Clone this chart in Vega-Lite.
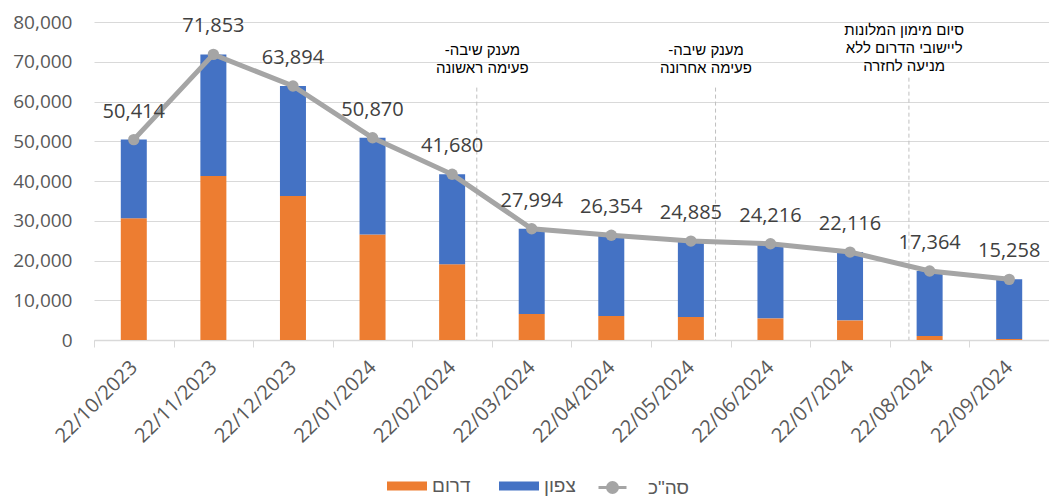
{
  "$schema": "https://vega.github.io/schema/vega-lite/v6.json",
  "autosize": {"type": "none"},
  "padding": {"left": 94, "top": 22, "right": 0, "bottom": 157},
  "width": 955,
  "height": 318,
  "background": "white",
  "config": {
    "view": {"stroke": null},
    "font": "Open Sans",
    "axisY": {"title": null, "labelExpr": "format(datum.value, ',')", "labelFontSize": 19, "labelColor": "#595959", "labelPadding": 22, "domain": false, "ticks": false, "gridColor": "#d9d9d9", "gridWidth": 1.2, "labelFont": "Open Sans"}
  },
  "datasets": {
    "bars": [
      {"date": "22/10/2023", "series": "דרום", "value": 30660},
      {"date": "22/10/2023", "series": "צפון", "value": 19754},
      {"date": "22/11/2023", "series": "דרום", "value": 41250},
      {"date": "22/11/2023", "series": "צפון", "value": 30603},
      {"date": "22/12/2023", "series": "דרום", "value": 36210},
      {"date": "22/12/2023", "series": "צפון", "value": 27684},
      {"date": "22/01/2024", "series": "דרום", "value": 26550},
      {"date": "22/01/2024", "series": "צפון", "value": 24320},
      {"date": "22/02/2024", "series": "דרום", "value": 19060},
      {"date": "22/02/2024", "series": "צפון", "value": 22620},
      {"date": "22/03/2024", "series": "דרום", "value": 6560},
      {"date": "22/03/2024", "series": "צפון", "value": 21434},
      {"date": "22/04/2024", "series": "דרום", "value": 6050},
      {"date": "22/04/2024", "series": "צפון", "value": 20304},
      {"date": "22/05/2024", "series": "דרום", "value": 5800},
      {"date": "22/05/2024", "series": "צפון", "value": 19085},
      {"date": "22/06/2024", "series": "דרום", "value": 5450},
      {"date": "22/06/2024", "series": "צפון", "value": 18766},
      {"date": "22/07/2024", "series": "דרום", "value": 4940},
      {"date": "22/07/2024", "series": "צפון", "value": 17176},
      {"date": "22/08/2024", "series": "דרום", "value": 1000},
      {"date": "22/08/2024", "series": "צפון", "value": 16364},
      {"date": "22/09/2024", "series": "דרום", "value": 250},
      {"date": "22/09/2024", "series": "צפון", "value": 15008}
    ],
    "totals": [
      {"date": "22/10/2023", "total": 50414},
      {"date": "22/11/2023", "total": 71853},
      {"date": "22/12/2023", "total": 63894},
      {"date": "22/01/2024", "total": 50870},
      {"date": "22/02/2024", "total": 41680},
      {"date": "22/03/2024", "total": 27994},
      {"date": "22/04/2024", "total": 26354},
      {"date": "22/05/2024", "total": 24885},
      {"date": "22/06/2024", "total": 24216},
      {"date": "22/07/2024", "total": 22116},
      {"date": "22/08/2024", "total": 17364},
      {"date": "22/09/2024", "total": 15258}
    ],
    "notes": [
      {"date": "22/02/2024", "top": 63500, "note": ["-מענק שיבה", "פעימה ראשונה"]},
      {"date": "22/05/2024", "top": 63500, "note": ["-מענק שיבה", "פעימה אחרונה"]},
      {"date": "22/08/2024", "top": 66000, "note": ["סיום מימון המלונות", "ליישובי הדרום ללא", "מניעה לחזרה"]}
    ]
  },
  "layer": [
    {
      "data": {"name": "bars"},
      "mark": {"type": "bar", "width": 26},
      "encoding": {
        "x": {
          "field": "date", "type": "nominal",
          "scale": {"domain": ["22/10/2023","22/11/2023","22/12/2023","22/01/2024","22/02/2024","22/03/2024","22/04/2024","22/05/2024","22/06/2024","22/07/2024","22/08/2024","22/09/2024"], "paddingInner": 0, "paddingOuter": 0},
          "axis": {"title": null, "labelAngle": -45, "labelAlign": "right", "labelBaseline": "middle", "labelFontSize": 20, "labelColor": "#595959", "labelPadding": 17, "tickBand": "extent", "tickSize": 7, "tickColor": "#d9d9d9", "domainColor": "#d9d9d9", "domainWidth": 1.5, "labelFont": "Open Sans"}
        },
        "y": {
          "field": "value", "type": "quantitative", "stack": "zero",
          "scale": {"domain": [0, 80000], "nice": false},
          "axis": {"values": [0,10000,20000,30000,40000,50000,60000,70000,80000]}
        },
        "order": {"field": "series", "sort": "ascending"},
        "color": {
          "field": "series", "type": "nominal",
          "scale": {"domain": ["דרום", "צפון"], "range": ["#ED7D31", "#4472C4"]},
          "legend": {
            "orient": "none", "legendX": 293, "legendY": 444, "direction": "horizontal", "title": null,
            "symbolType": "M-1,-0.23H1V0.23H-1Z", "symbolSize": 1600, "symbolStrokeWidth": 0, "symbolOpacity": 1,
            "labelFontSize": 19, "labelFont": "Liberation Sans", "labelColor": "#595959",
            "columnPadding": 28, "labelOffset": 5
          }
        }
      }
    },
    {
      "data": {"name": "notes"},
      "transform": [{"filter": {"field": "date", "oneOf": ["22/02/2024", "22/05/2024"]}}],
      "mark": {"type": "rule", "color": "#bfbfbf", "strokeDash": [4, 3], "strokeWidth": 1},
      "encoding": {
        "x": {"field": "date", "type": "nominal", "bandPosition": 0.81},
        "y": {"field": "top", "type": "quantitative", "axis": {"values": [0,10000,20000,30000,40000,50000,60000,70000,80000]}},
        "y2": {"datum": 0}
      }
    },
    {
      "data": {"name": "notes"},
      "transform": [{"filter": {"field": "date", "equal": "22/08/2024"}}],
      "mark": {"type": "rule", "color": "#bfbfbf", "strokeDash": [4, 3], "strokeWidth": 1},
      "encoding": {
        "x": {"field": "date", "type": "nominal", "bandPosition": 0.24},
        "y": {"field": "top", "type": "quantitative", "axis": {"values": [0,10000,20000,30000,40000,50000,60000,70000,80000]}},
        "y2": {"datum": 0}
      }
    },
    {
      "data": {"name": "notes"},
      "transform": [{"filter": {"field": "date", "equal": "22/02/2024"}}],
      "mark": {"type": "text", "align": "center", "baseline": "top", "lineHeight": 18, "fontSize": 15, "font": "Liberation Sans", "color": "#000000", "dy": -45},
      "encoding": {
        "x": {"field": "date", "type": "nominal", "bandPosition": 0.88},
        "y": {"field": "top", "type": "quantitative", "axis": {"values": [0,10000,20000,30000,40000,50000,60000,70000,80000]}},
        "text": {"field": "note", "type": "nominal"}
      }
    },
    {
      "data": {"name": "notes"},
      "transform": [{"filter": {"field": "date", "equal": "22/05/2024"}}],
      "mark": {"type": "text", "align": "center", "baseline": "top", "lineHeight": 18, "fontSize": 15, "font": "Liberation Sans", "color": "#000000", "dy": -45},
      "encoding": {
        "x": {"field": "date", "type": "nominal", "bandPosition": 0.69},
        "y": {"field": "top", "type": "quantitative", "axis": {"values": [0,10000,20000,30000,40000,50000,60000,70000,80000]}},
        "text": {"field": "note", "type": "nominal"}
      }
    },
    {
      "data": {"name": "notes"},
      "transform": [{"filter": {"field": "date", "equal": "22/08/2024"}}],
      "mark": {"type": "text", "align": "center", "baseline": "top", "lineHeight": 18, "fontSize": 15, "font": "Liberation Sans", "color": "#000000", "dy": -55},
      "encoding": {
        "x": {"field": "date", "type": "nominal", "bandPosition": 0.18},
        "y": {"field": "top", "type": "quantitative", "axis": {"values": [0,10000,20000,30000,40000,50000,60000,70000,80000]}},
        "text": {"field": "note", "type": "nominal"}
      }
    },
    {
      "data": {"name": "totals"},
      "mark": {"type": "line", "strokeWidth": 5},
      "encoding": {
        "x": {"field": "date", "type": "nominal"},
        "y": {"field": "total", "type": "quantitative", "axis": {"values": [0,10000,20000,30000,40000,50000,60000,70000,80000]}},
        "stroke": {
          "datum": "סה\"כ", "type": "nominal",
          "scale": {"domain": ["סה\"כ"], "range": ["#A5A5A5"]},
          "legend": {
            "orient": "none", "legendX": 497, "legendY": 444, "direction": "horizontal", "title": null,
            "symbolType": "M-0.7,0H0.7M0.25,0A0.25,0.25,0,1,1,-0.25,0A0.25,0.25,0,1,1,0.25,0Z",
            "symbolSize": 1600, "symbolStrokeWidth": 3, "symbolFillColor": "#A5A5A5", "symbolStrokeColor": "#A5A5A5", "symbolOpacity": 1,
            "labelFontSize": 19, "labelFont": "Liberation Sans", "labelColor": "#595959", "labelOffset": 14
          }
        }
      }
    },
    {
      "data": {"name": "totals"},
      "mark": {"type": "point", "filled": true, "size": 130, "opacity": 1, "color": "#A5A5A5"},
      "encoding": {
        "x": {"field": "date", "type": "nominal"},
        "y": {"field": "total", "type": "quantitative", "axis": {"values": [0,10000,20000,30000,40000,50000,60000,70000,80000]}}
      }
    },
    {
      "data": {"name": "totals"},
      "mark": {"type": "text", "dy": -28, "fontSize": 20, "font": "Open Sans", "color": "#404040"},
      "encoding": {
        "x": {"field": "date", "type": "nominal"},
        "y": {"field": "total", "type": "quantitative", "axis": {"values": [0,10000,20000,30000,40000,50000,60000,70000,80000]}},
        "text": {"field": "total", "type": "quantitative", "format": ","}
      }
    }
  ]
}
